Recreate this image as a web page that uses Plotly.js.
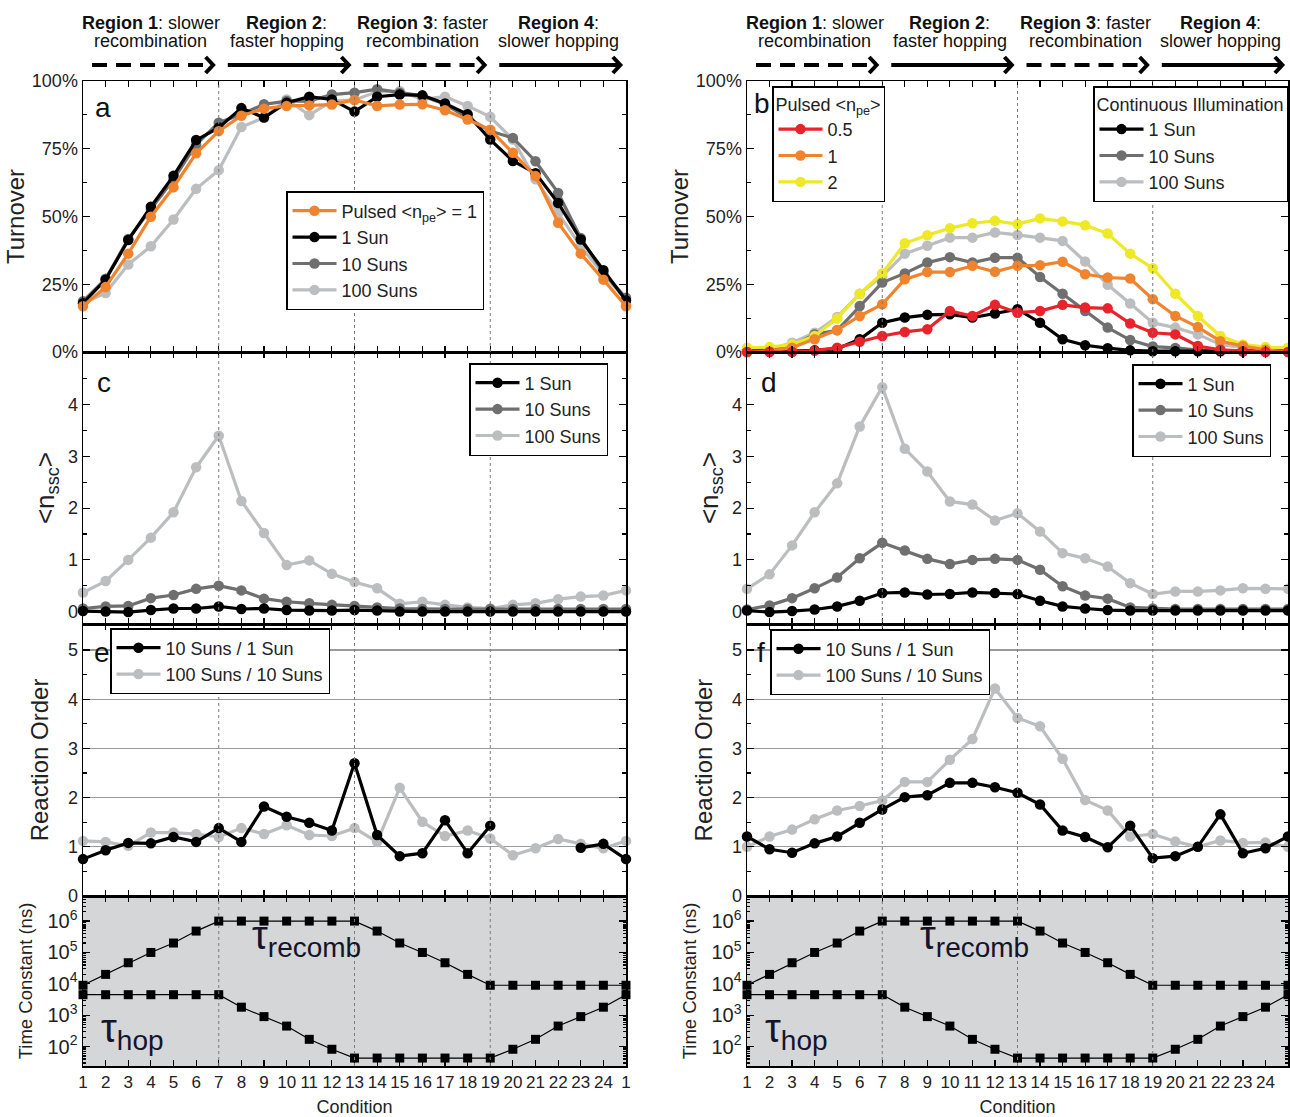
<!DOCTYPE html>
<html>
<head>
<meta charset="utf-8">
<script src="https://cdn.plot.ly/plotly-3.0.1.min.js"></script>
<style>html,body{margin:0;padding:0;background:#fff;}#chart{width:1290px;height:1117px;}</style>
</head>
<body>
<div id="chart"></div>
<script>
// ---------------- DATA ----------------
const conditions = [1,2,3,4,5,6,7,8,9,10,11,12,13,14,15,16,17,18,19,20,21,22,23,24,25];
const tickLabels = ['1','2','3','4','5','6','7','8','9','10','11','12','13','14','15','16','17','18','19','20','21','22','23','24','1'];
const turnoverTicks = [0,25,50,75,100];
const turnoverTickLabels = ['0%','25%','50%','75%','100%'];

// Panel a: Turnover (%), pulsed <n_pe> = 1 and continuous illumination
const aPulsed1 = [16.9,24.0,36.3,49.9,60.8,73.3,81.5,87.2,89.8,90.8,91.0,91.3,93.0,90.8,91.3,91.4,89.2,85.8,82.0,73.5,64.9,47.7,36.3,26.7,16.9];
const a1Sun    = [18.0,26.7,41.3,53.6,65.0,78.2,82.8,90.0,86.5,92.0,94.2,93.2,88.7,94.2,95.0,94.7,91.7,87.7,78.4,70.5,66.0,55.0,41.5,30.2,19.0];
const a10Suns  = [18.7,27.0,41.7,52.8,63.7,76.6,84.6,87.7,91.4,92.6,92.6,95.0,95.7,97.0,95.7,94.5,91.4,86.5,81.5,79.0,70.4,58.7,42.1,29.2,20.0];
const a100Suns = [18.0,21.8,32.3,39.0,48.9,60.2,67.1,83.0,86.5,93.2,87.4,92.6,93.0,96.0,96.3,93.2,94.2,90.8,86.8,78.4,63.7,51.4,39.0,28.6,19.3];

// Panel b: Turnover (%), pulsed <n_pe> = 0.5, 1, 2 and continuous illumination
const bPulsed05 = [0,0,0,0.5,1.6,3.8,5.9,7.4,8.4,15.1,13.3,17.4,14.5,15.1,17.4,16.4,16.1,10.5,7.1,6.5,2.2,0.8,0.3,0,0];
const bPulsed1  = [0,0.3,1.6,4.7,8.1,13.3,17.6,26.8,29.5,29.5,31.8,29.6,31.8,32.0,33.3,28.7,27.5,27.1,19.5,13.3,9.2,4.0,2.2,0.8,0];
const bPulsed2  = [1.6,1.8,2.8,5.9,12.4,21.5,29.0,40.1,43.1,45.7,47.5,48.4,47.2,49.3,48.2,46.8,43.7,36.3,30.9,21.5,13.3,5.9,2.8,1.8,1.6];
const b1Sun     = [0.3,0.3,0.3,0.6,1.2,4.7,10.8,12.7,13.7,13.9,12.7,14.2,15.8,10.8,4.7,2.5,1.4,0.6,0.3,0.3,0.3,0.3,0.3,0.3,0.3];
const b10Suns   = [0.7,0.7,2.2,6.5,8.0,17.0,25.6,29.0,33.0,35.0,33.0,34.8,34.8,27.7,21.5,15.1,9.0,4.4,2.0,1.5,0.7,0.5,0.3,0.3,0.3];
const b100Suns  = [1.0,1.0,3.4,7.1,12.9,21.5,28.0,36.3,39.2,42.2,42.2,44.1,43.2,42.2,41.0,33.4,24.8,17.9,10.8,9.0,6.5,2.8,1.6,1.0,1.0];

// Panel c: <n_ssc>
const c1Sun    = [0.01,0.0,-0.01,0.03,0.06,0.06,0.1,0.05,0.06,0.03,0.02,0.02,0.03,0.02,0,0,0,0,0,0,0,0,0,0,0];
const c10Suns  = [0.06,0.1,0.11,0.26,0.32,0.44,0.5,0.41,0.25,0.19,0.16,0.13,0.11,0.08,0.06,0.05,0.05,0.05,0.05,0.05,0.05,0.05,0.05,0.05,0.05];
const c100Suns = [0.37,0.59,1.0,1.43,1.92,2.79,3.4,2.14,1.52,0.9,0.99,0.73,0.57,0.45,0.15,0.19,0.13,0.08,0.06,0.13,0.16,0.24,0.29,0.31,0.41];

// Panel d: <n_ssc>
const d1Sun    = [0.02,-0.01,0.01,0.04,0.1,0.21,0.36,0.37,0.33,0.34,0.37,0.36,0.34,0.21,0.1,0.06,0.03,0.02,0.02,0.02,0.02,0.02,0.02,0.02,0.02];
const d10Suns  = [0.04,0.12,0.26,0.45,0.66,1.03,1.33,1.18,1.02,0.92,1.0,1.02,1.0,0.81,0.49,0.31,0.25,0.08,0.06,0.05,0.05,0.05,0.05,0.05,0.05];
const d100Suns = [0.44,0.72,1.28,1.92,2.48,3.58,4.34,3.15,2.71,2.13,2.07,1.76,1.9,1.55,1.13,1.03,0.87,0.55,0.34,0.39,0.39,0.41,0.45,0.44,0.44];

// Panel e / f: Reaction order
const e10over1   = [0.75,0.93,1.08,1.07,1.2,1.1,1.38,1.1,1.82,1.61,1.49,1.33,2.7,1.24,0.81,0.87,1.54,0.87,1.43,null,null,null,0.98,1.06,0.75];
const e100over10 = [1.12,1.1,1.02,1.29,1.29,1.26,1.2,1.38,1.26,1.44,1.24,1.22,1.38,1.1,2.2,1.51,1.22,1.33,1.17,0.83,0.97,1.16,1.06,0.97,1.12];
const f10over1   = [1.21,0.95,0.88,1.07,1.21,1.49,1.76,2.01,2.05,2.3,2.3,2.21,2.1,1.86,1.33,1.2,0.99,1.43,0.77,0.81,1.0,1.66,0.87,0.97,1.21];
const f100over10 = [1.0,1.21,1.35,1.56,1.74,1.83,1.94,2.32,2.32,2.77,3.19,4.22,3.62,3.45,2.79,1.95,1.74,1.21,1.26,1.11,1.0,1.13,1.08,1.09,1.0];

// Time constants (ns)
const tauRecomb = [9e3,2e4,4.7e4,1e5,2e5,4.8e5,1e6,1e6,1e6,1e6,1e6,1e6,1e6,4.8e5,2e5,1e5,4.7e4,2e4,9e3,9e3,9e3,9e3,9e3,9e3,9e3];
const tauHop    = [4.5e3,4.5e3,4.5e3,4.5e3,4.5e3,4.5e3,4.5e3,1.8e3,900,450,170,82,43,43,43,43,43,43,43,82,170,450,900,1.8e3,4.5e3];
const tauTicks = [1e2,1e3,1e4,1e5,1e6];
const tauTickLabels = ['10<sup>2</sup>','10<sup>3</sup>','10<sup>4</sup>','10<sup>5</sup>','10<sup>6</sup>'];

// Region header text and arrows
const regionBold  = ['Region 1','Region 2','Region 3','Region 4'];
const regionLine1 = [': slower',':',': faster',':'];
const regionLine2 = ['recombination','faster hopping','recombination','slower hopping'];
const regionCenter = [4,10,16,22];
const arrowStart = [1.4,7.4,13.4,19.4];
const arrowEnd   = [6.75,12.75,18.75,24.75];
const arrowDashed = [true,false,true,false];
const regionBounds = [7,13,19];

// ---------------- STYLE ----------------
const FONT = '"Liberation Sans", Arial, sans-serif';
const W = 1290, H = 1117;
const C = {orange:'#f0842e', red:'#e8232b', yellow:'#eee826', black:'#000000', dgray:'#6f6f70', lgray:'#bcbdbf'};
const rowsPx = [[81,352],[352,624],[624,896],[896,1066]];
const colsPx = [[83,626],[747,1288]];
const px2x = p => p / W;
const px2y = p => 1 - p / H;
const ydom = r => [px2y(rowsPx[r][1]), px2y(rowsPx[r][0])];
const xdom = c => [px2x(colsPx[c][0]), px2x(colsPx[c][1])];

function tr(name, y, color, xa, ya, legend, rank) {
  return {type:'scatter', mode:'lines+markers', x:conditions, y:y, name:name,
    xaxis:xa, yaxis:ya, legend:legend, legendrank:rank||1000, cliponaxis:false,
    line:{color:color, width:3.2}, marker:{color:color, size:10.5, symbol:'circle'}, connectgaps:false};
}
function tauTrace(y, xa, ya) {
  return {type:'scatter', mode:'lines+markers', x:conditions, y:y, xaxis:xa, yaxis:ya,
    showlegend:false, cliponaxis:false, line:{color:'#000', width:1.2},
    marker:{color:'#000', size:9, symbol:'square'}};
}

const traces = [
  // a
  tr('100 Suns', a100Suns, C.lgray, 'x', 'y', 'legend', 4),
  tr('10 Suns', a10Suns, C.dgray, 'x', 'y', 'legend', 3),
  tr('1 Sun', a1Sun, C.black, 'x', 'y', 'legend', 2),
  tr('Pulsed &lt;n<sub>pe</sub>&gt; = 1', aPulsed1, C.orange, 'x', 'y', 'legend', 1),
  // c
  tr('100 Suns', c100Suns, C.lgray, 'x2', 'y2', 'legend4', 3),
  tr('10 Suns', c10Suns, C.dgray, 'x2', 'y2', 'legend4', 2),
  tr('1 Sun', c1Sun, C.black, 'x2', 'y2', 'legend4', 1),
  // e
  tr('100 Suns / 10 Suns', e100over10, C.lgray, 'x3', 'y3', 'legend6', 2),
  tr('10 Suns / 1 Sun', e10over1, C.black, 'x3', 'y3', 'legend6', 1),
  // time left
  tauTrace(tauRecomb, 'x4', 'y4'),
  tauTrace(tauHop, 'x4', 'y4'),
  // b
  tr('100 Suns', b100Suns, C.lgray, 'x5', 'y5', 'legend3', 3),
  tr('10 Suns', b10Suns, C.dgray, 'x5', 'y5', 'legend3', 2),
  tr('1 Sun', b1Sun, C.black, 'x5', 'y5', 'legend3', 1),
  tr('2', bPulsed2, C.yellow, 'x5', 'y5', 'legend2', 3),
  tr('1', bPulsed1, C.orange, 'x5', 'y5', 'legend2', 2),
  tr('0.5', bPulsed05, C.red, 'x5', 'y5', 'legend2', 1),
  // d
  tr('100 Suns', d100Suns, C.lgray, 'x6', 'y6', 'legend5', 3),
  tr('10 Suns', d10Suns, C.dgray, 'x6', 'y6', 'legend5', 2),
  tr('1 Sun', d1Sun, C.black, 'x6', 'y6', 'legend5', 1),
  // f
  tr('100 Suns / 10 Suns', f100over10, C.lgray, 'x7', 'y7', 'legend7', 2),
  tr('10 Suns / 1 Sun', f10over1, C.black, 'x7', 'y7', 'legend7', 1),
  // time right
  tauTrace(tauRecomb, 'x8', 'y8'),
  tauTrace(tauHop, 'x8', 'y8'),
];

function xax(col, row, anchor) {
  const bottom = row === 3;
  const ax = {domain:xdom(col), anchor:anchor, range:[1,25], tickmode:'array', tickvals:conditions, ticktext:tickLabels,
    showticklabels:bottom, ticks:'inside', ticklen:6, tickwidth:1.2, tickcolor:'#000', mirror:'ticks', showline:true,
    linewidth:1.5, linecolor:'#000', showgrid:false, zeroline:false, tickfont:{family:FONT, size:17, color:'#222'}};
  if (bottom) ax.title = {text:'Condition', font:{family:FONT, size:18, color:'#222'}, standoff:11};
  return ax;
}
function yax(row, anchor, extra) {
  return Object.assign({domain:ydom(row), anchor:anchor, showline:true, linecolor:'#000', linewidth:1.5, mirror:'ticks',
    ticks:'inside', ticklen:7, tickwidth:1.2, tickcolor:'#000', showgrid:false, zeroline:false,
    tickfont:{family:FONT, size:18, color:'#222'}}, extra);
}
const minorLog = [];
[1,2,3,4,5,6].forEach(e => [2,3,4,5,6,7,8,9].forEach(m => minorLog.push(m * Math.pow(10, e))));
const titleFont = s => ({family:FONT, size:s, color:'#222'});

const yTurn = () => ({range:[0,100], tickmode:'array', tickvals:turnoverTicks, ticktext:turnoverTickLabels,
  minor:{dtick:12.5, ticks:'inside', ticklen:4, tickcolor:'#000'},
  title:{text:'Turnover', font:titleFont(24), standoff:0}});
const yN = () => ({range:[-0.24,5.02], tickvals:[0,1,2,3,4], minor:{dtick:0.5, ticks:'inside', ticklen:4, tickcolor:'#000'},
  title:{text:'&lt;n<sub>ssc</sub>&gt;', font:titleFont(26), standoff:6}});
const yR = () => ({range:[0,5.53], tickvals:[0,1,2,3,4,5], showgrid:true, gridcolor:'#9a9a9a', gridwidth:1.2,
  minor:{dtick:0.5, ticks:'inside', ticklen:4, tickcolor:'#000'},
  title:{text:'Reaction Order', font:titleFont(24), standoff:12}});
const yT = () => ({type:'log', range:[1.38,6.8], tickmode:'array', tickvals:tauTicks, ticktext:tauTickLabels,
  tickfont:{family:FONT, size:20, color:'#222'},
  minor:{tickvals:minorLog, ticks:'inside', ticklen:3, tickcolor:'#000'},
  title:{text:'Time Constant (ns)', font:titleFont(18.5), standoff:10}});

const layout = {
  width:W, height:H, margin:{l:0,r:0,t:0,b:0}, paper_bgcolor:'#fff', plot_bgcolor:'rgba(0,0,0,0)',
  font:{family:FONT, color:'#222'}, hovermode:false,
  xaxis:xax(0,0,'y'), xaxis2:xax(0,1,'y2'), xaxis3:xax(0,2,'y3'), xaxis4:xax(0,3,'y4'),
  xaxis5:xax(1,0,'y5'), xaxis6:xax(1,1,'y6'), xaxis7:xax(1,2,'y7'), xaxis8:xax(1,3,'y8'),
  yaxis:yax(0,'x',yTurn()), yaxis2:yax(1,'x2',yN()), yaxis3:yax(2,'x3',yR()), yaxis4:yax(3,'x4',yT()),
  yaxis5:yax(0,'x5',yTurn()), yaxis6:yax(1,'x6',yN()), yaxis7:yax(2,'x7',yR()), yaxis8:yax(3,'x8',yT()),
  shapes:[], annotations:[]
};

function legendAt(xp, yp, extra) {
  return Object.assign({x:px2x(xp), y:px2y(yp), xanchor:'left', yanchor:'top', bgcolor:'#fff', bordercolor:'#000',
    borderwidth:1.5, font:{family:FONT, size:18, color:'#222'}, itemwidth:44, tracegroupgap:0, traceorder:'normal'}, extra||{});
}
layout.legend  = legendAt(286,191);
layout.legend2 = legendAt(772,86, {title:{text:'Pulsed &lt;n<sub>pe</sub>&gt;', font:{family:FONT,size:18,color:'#222'}}});
layout.legend3 = legendAt(1288,86, {xanchor:'right', title:{text:'Continuous Illumination', font:{family:FONT,size:18,color:'#222'}}});
layout.legend4 = legendAt(469,363);
layout.legend5 = legendAt(1132,364);
layout.legend6 = legendAt(110,628);
layout.legend7 = legendAt(770,629);

// gray background of the time-constant panels
['x4','x8'].forEach(xa => {
  const n = xa.slice(1);
  layout.shapes.push({type:'rect', xref:xa+' domain', yref:'y'+n+' domain', x0:0, x1:1, y0:0, y1:1,
    fillcolor:'#d5d6d8', line:{width:0}, layer:'below'});
});
// dotted region boundaries
['x','x5'].forEach(xa => {
  regionBounds.forEach(b => layout.shapes.push({type:'line', xref:xa, yref:'paper', x0:b, x1:b,
    y0:px2y(rowsPx[3][1]), y1:px2y(rowsPx[0][0]), line:{color:'#7a7a7a', width:1, dash:'dot'}, layer:'above'}));
});
// region arrows + header texts
const arrowY = px2y(65), headH = 8 / H;
['x','x5'].forEach(xa => {
  for (let i = 0; i < 4; i++) {
    layout.shapes.push({type:'line', xref:xa, yref:'paper', x0:arrowStart[i], x1:arrowEnd[i]-0.05, y0:arrowY, y1:arrowY,
      line:{color:'#000', width:4, dash: arrowDashed[i] ? '15px,9px' : 'solid'}});
    const xe = arrowEnd[i];
    layout.shapes.push({type:'path', xref:xa, yref:'paper',
      path:`M ${xe-0.33},${arrowY+headH} L ${xe},${arrowY} L ${xe-0.33},${arrowY-headH}`,
      line:{color:'#000', width:4}});
    layout.annotations.push({xref:xa, yref:'paper', x:regionCenter[i], y:px2y(23), showarrow:false,
      text:'<b>'+regionBold[i]+'</b>'+regionLine1[i], font:{family:FONT, size:18, color:'#111'}, xanchor:'center', yanchor:'middle'});
    layout.annotations.push({xref:xa, yref:'paper', x:regionCenter[i], y:px2y(41), showarrow:false,
      text:regionLine2[i], font:{family:FONT, size:18, color:'#111'}, xanchor:'center', yanchor:'middle'});
  }
});
// panel letters
const letters = [['a',93,108],['b',752,104],['c',95,382],['d',759,382],['e',92,652],['f',755,652]];
letters.forEach(([t,xp,yp]) => layout.annotations.push({xref:'paper', yref:'paper', x:px2x(xp), y:px2y(yp),
  text:t, showarrow:false, xanchor:'left', yanchor:'middle', font:{family:FONT, size:28, color:'#111'}}));
// tau labels
[['x4',10.9,3.2],['x8',11.1,3.2]].forEach(([xa,xr,xh]) => {
  layout.annotations.push({xref:xa, yref:'paper', x:xr, y:px2y(938), showarrow:false, xanchor:'center', yanchor:'middle',
    text:'τ<sub>recomb</sub>', font:{family:FONT, size:40, color:'#14142a'}});
  layout.annotations.push({xref:xa, yref:'paper', x:xh, y:px2y(1031), showarrow:false, xanchor:'center', yanchor:'middle',
    text:'τ<sub>hop</sub>', font:{family:FONT, size:40, color:'#14142a'}});
});

Plotly.newPlot('chart', traces, layout, {displayModeBar:false, staticPlot:true});
</script>
</body>
</html>
